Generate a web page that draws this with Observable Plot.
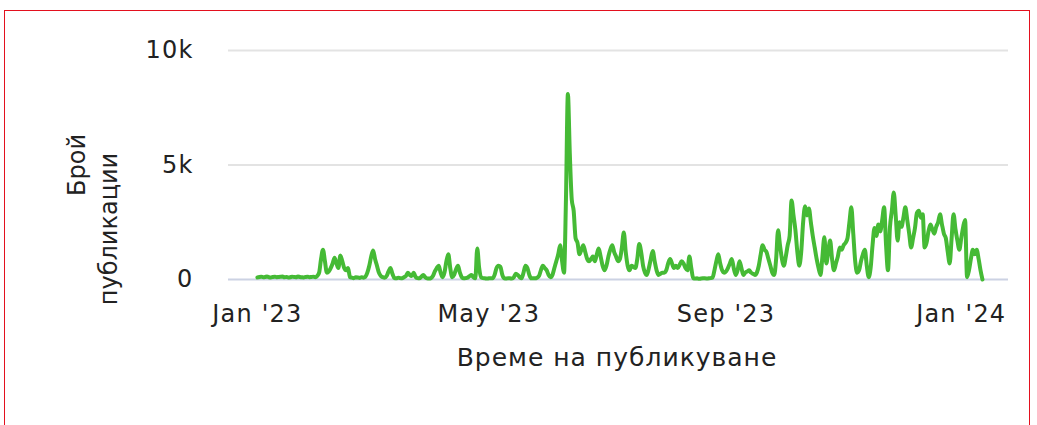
<!DOCTYPE html>
<html>
<head>
<meta charset="utf-8">
<script src="https://cdn.jsdelivr.net/npm/d3@7"></script>
<script src="https://cdn.jsdelivr.net/npm/@observablehq/plot@0.6"></script>
<style>
  html, body { margin: 0; padding: 0; background: #fff; }
  #wrap { position: relative; width: 1037px; height: 425px; overflow: hidden; font-family: "DejaVu Sans", sans-serif; color: #222; }
  #frame { position: absolute; left: 4px; top: 10px; width: 1026px; height: 430px; border: 1.5px solid #e3101e; border-bottom: none; box-sizing: border-box; }
  #chart { position: absolute; left: 0; top: 0; }
  #chart svg text { letter-spacing: 1.2px; }
  .lab { position: absolute; font-size: 24px; white-space: nowrap; }
  .ylab { transform: translate(-50%, -50%) rotate(-90deg); }
  .xlab { transform: translate(-50%, -50%); font-size: 25px; letter-spacing: 1px; }
</style>
</head>
<body>
<div id="wrap">
  <div id="frame"></div>
  <div id="chart"></div>
  <div class="lab ylab" style="left:77px; top:165px;">Брой</div>
  <div class="lab ylab" style="left:109px; top:229px;">публикации</div>
  <div class="lab xlab" style="left:617px; top:357px;">Време на публикуване</div>
</div>
<script>
// first day of the daily series
const startDate = "2023-01-01";
// daily publication counts
const counts = [
  90,110,120,100,110,130,100,90,110,120,
  100,110,120,130,100,110,90,100,120,110,
  100,130,110,100,90,110,120,100,110,120,
  100,150,300,900,1300,800,300,350,500,700,
  950,700,500,1050,800,500,400,500,100,80,
  60,100,90,70,100,80,120,300,600,1000,
  1270,900,600,300,150,100,80,150,350,500,
  250,60,50,80,60,50,100,150,300,200,
  150,300,120,60,50,120,200,100,50,40,
  60,150,350,500,600,300,100,300,800,1100,
  500,100,200,450,600,300,100,50,60,80,
  150,200,100,50,1350,500,100,60,50,40,
  50,60,50,200,500,600,550,200,50,40,
  60,50,40,100,250,200,100,50,300,600,
  500,200,50,60,50,80,150,400,600,500,
  400,200,100,200,500,800,1100,1500,800,300,
  3500,8100,5500,3500,3000,1800,1600,1100,1300,1500,
  1200,900,800,900,1000,800,1100,1350,1000,600,
  400,600,1000,1300,1500,1200,1000,800,900,1400,
  2050,1200,600,400,600,550,500,900,1550,1200,
  600,300,200,500,900,1250,800,400,200,250,
  300,300,400,700,900,700,500,600,500,650,
  800,700,500,400,1000,500,50,40,50,30,
  40,50,60,40,50,60,80,400,800,1100,
  700,400,300,350,500,700,900,500,200,400,
  800,500,200,300,350,400,300,250,200,300,
  600,1100,1500,1300,1200,900,600,300,200,900,
  2150,1500,900,600,1000,1500,1900,3450,2800,2150,
  1200,600,1200,2500,3200,2800,3100,2500,1900,1400,
  900,500,200,1000,1850,700,1200,1700,900,400,
  700,1000,1400,1300,1500,1600,1800,2500,3150,2000,
  800,300,400,800,1100,1300,600,100,500,1500,
  2250,1900,2400,2100,2600,3150,1500,400,2250,3000,
  3800,2800,1700,2500,2300,2700,3150,2600,2000,1400,
  1800,2250,2900,3000,2700,2850,1400,1600,2100,2400,
  2200,2000,2300,2500,2850,2400,2000,1800,1200,700,
  1800,2850,2200,1700,1300,1800,2300,2600,100,400,
  900,1300,1100,1300,900,400,0
];
// x tick dates and their labels
const xTickDates = ["2023-01-01", "2023-05-01", "2023-09-01", "2024-01-01"];
const xTickLabels = ["Jan '23", "May '23", "Sep '23", "Jan '24"];
// y ticks and labels
const yTicks = [0, 5000, 10000];
const yTickLabels = ["0", "5k", "10k"];
// visible time range
const xRange = ["2022-12-17T00:00:00Z", "2024-01-25T12:00:00Z"];

const start = new Date(startDate + "T00:00:00Z");
const data = counts.map((v, i) => ({ date: d3.utcDay.offset(start, i), value: v }));
const tickDates = xTickDates.map(s => new Date(s + "T00:00:00Z"));

const chart = Plot.plot({
  width: 1037,
  height: 425,
  marginLeft: 228,
  marginRight: 29,
  marginTop: 50,
  marginBottom: 146,
  style: { fontFamily: "DejaVu Sans, sans-serif", fontSize: "24px", color: "#222", background: "transparent", overflow: "visible" },
  x: {
    type: "utc",
    domain: xRange.map(s => new Date(s)),
    ticks: tickDates,
    tickFormat: d => xTickLabels[tickDates.findIndex(t => +t === +d)],
    tickSize: 0,
    tickPadding: 25,
    label: null
  },
  y: {
    domain: [0, 10000],
    ticks: yTicks,
    tickFormat: d => yTickLabels[yTicks.indexOf(d)],
    tickSize: 0,
    tickPadding: 35,
    label: null
  },
  marks: [
    Plot.gridY(yTicks.slice(1), { stroke: "#e3e3e3", strokeOpacity: 1, strokeWidth: 2 }),
    Plot.ruleY([0], { stroke: "#ccd2e3", strokeWidth: 2 }),
    Plot.lineY(data, { x: "date", y: "value", stroke: "#45ba35", strokeWidth: 4, curve: "monotone-x" })
  ]
});
document.getElementById("chart").appendChild(chart);
</script>
</body>
</html>
